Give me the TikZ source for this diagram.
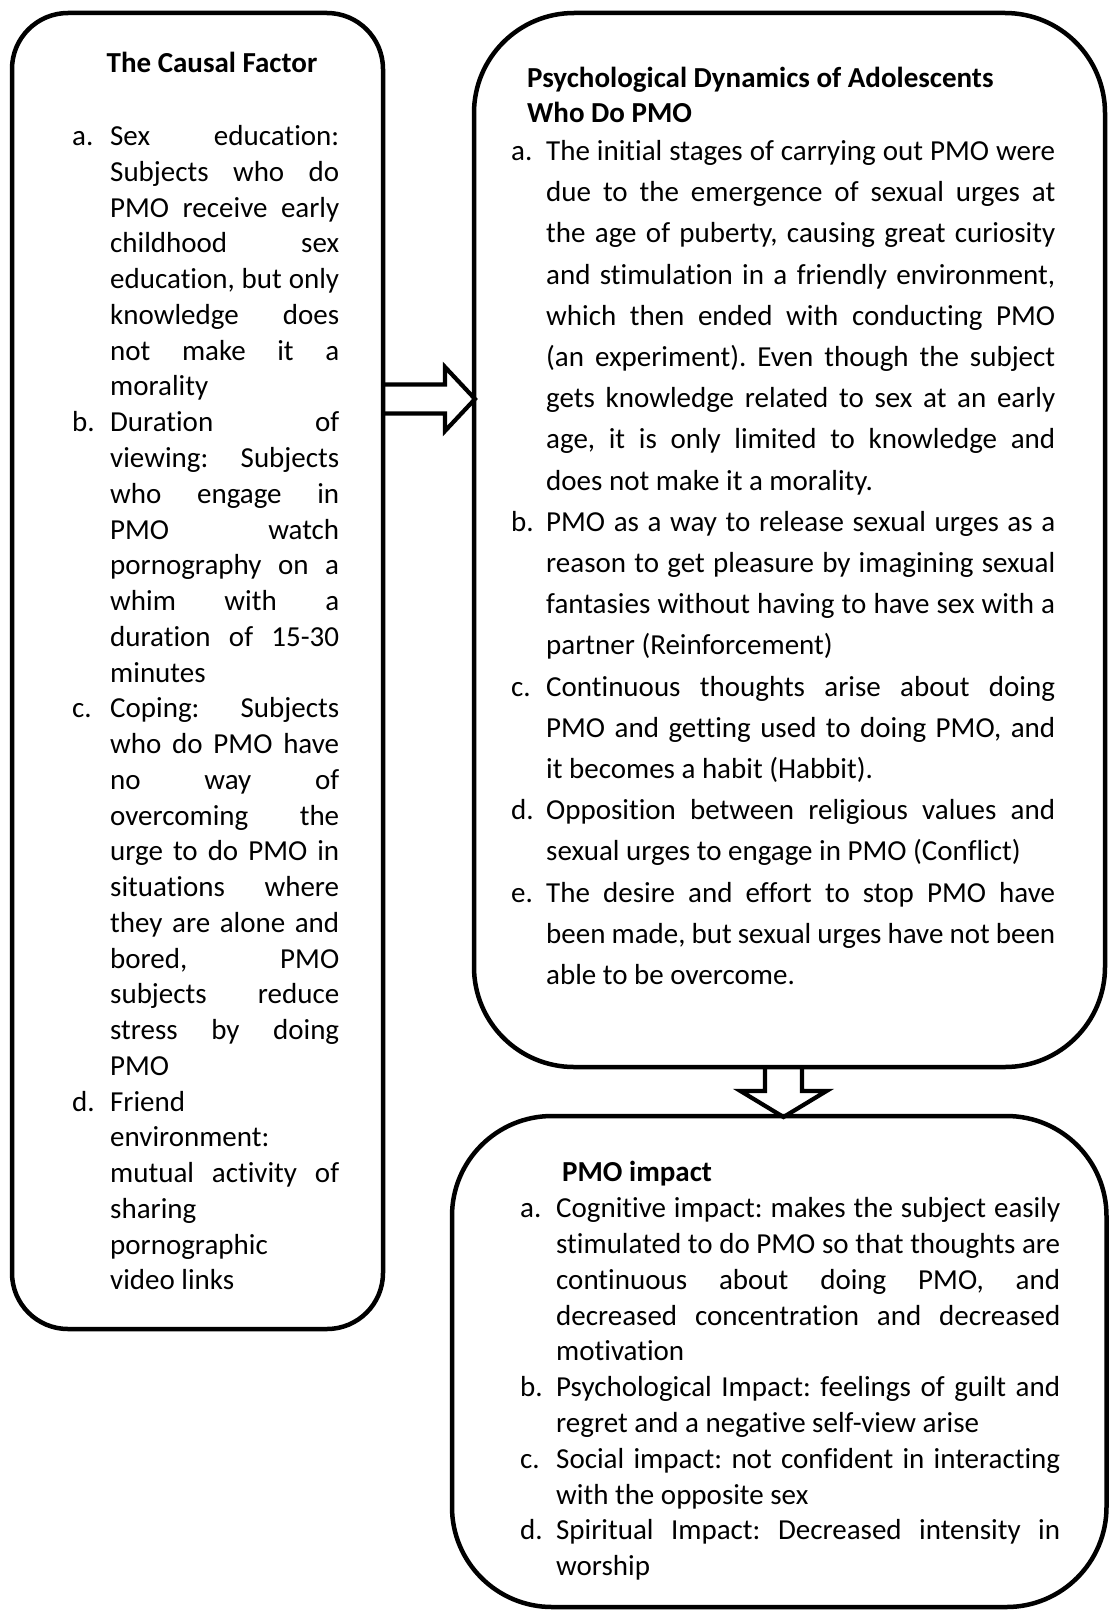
\documentclass[tikz,border=0pt]{standalone}
\usepackage{fontspec}
\setmainfont{Carlito}[Ligatures=NoCommon]
\usetikzlibrary{positioning}
\newcommand{\bodyfont}[1]{\fontsize{29pt}{#1}\selectfont\frenchspacing
  \spaceskip=0.226em plus 3em minus 0.08em\relax
  \tolerance=10000 \hyphenpenalty=10000 \exhyphenpenalty=10000 }
\newcommand{\litem}[2]{\par\hangindent=#1\hangafter=1\noindent\makebox[#1][l]{#2}}
\newcommand{\topstrut}{\rule{0pt}{24pt}}
\tikzset{
  panel/.style={draw, line width=4.5pt, rounded corners=#1, inner sep=0pt, outer sep=0pt},
  heading/.style={inner sep=0pt, font=\bfseries\fontsize{29pt}{35pt}\selectfont},
  itemlist/.style={anchor=north west, inner sep=0pt, text width=#1, align=justify},
  blockarrow/.style={draw, line width=4.2pt, line join=miter}
}

\begin{document}
\begin{tikzpicture}[x=1pt, y=-1pt]
  \useasboundingbox (0,0) rectangle (1108,1611);

  \node[panel=56pt, minimum width=371pt, minimum height=1316pt] (cause) at (197.5,671) {};
  \node[panel=100pt, minimum width=631pt, minimum height=1054pt] (dyn) at (789.5,540) {};
  \node[panel=100pt, minimum width=654.5pt, minimum height=491pt] (impact) at (779.25,1361.5) {};

  \node[heading, anchor=base] (causetitle) at (212,73) {The Causal Factor};
  \node[itemlist=267pt] (causelist) at (72,109.7) {\bodyfont{35.76pt}%
    \litem{38pt}{a.}\topstrut Sex education:\linebreak Subjects who do\linebreak PMO receive early\linebreak childhood sex\linebreak education, but only\linebreak knowledge does\linebreak not make it a\linebreak morality
    \litem{38pt}{b.}Duration of\linebreak viewing: Subjects\linebreak who engage in\linebreak PMO watch\linebreak pornography on a\linebreak whim with a\linebreak duration of 15-30\linebreak minutes
    \litem{38pt}{c.}Coping: Subjects\linebreak who do PMO have\linebreak no way of\linebreak overcoming the\linebreak urge to do PMO in\linebreak situations where\linebreak they are alone and\linebreak bored, PMO\linebreak subjects reduce\linebreak stress by doing\linebreak PMO
    \litem{38pt}{d.}Friend\linebreak environment:\linebreak mutual activity of\linebreak sharing\linebreak pornographic\linebreak video links\par};

  \node[heading, anchor=north west, align=left] (dyntitle) at (527,63) {\topstrut Psychological Dynamics of Adolescents\\Who Do PMO};
  \node[itemlist=544pt] (dynlist) at (511,119) {\bodyfont{41.2pt}%
    \litem{35pt}{a.}\topstrut The initial stages of carrying out PMO were\linebreak due to the emergence of sexual urges at\linebreak the age of puberty, causing great curiosity\linebreak and stimulation in a friendly environment,\linebreak which then ended with conducting PMO\linebreak (an experiment). Even though the subject\linebreak gets knowledge related to sex at an early\linebreak age, it is only limited to knowledge and\linebreak does not make it a morality.
    \litem{35pt}{b.}PMO as a way to release sexual urges as a\linebreak reason to get pleasure by imagining sexual\linebreak fantasies without having to have sex with a\linebreak partner (Reinforcement)
    \litem{35pt}{c.}Continuous thoughts arise about doing\linebreak PMO and getting used to doing PMO, and\linebreak it becomes a habit (Habbit).
    \litem{35pt}{d.}Opposition between religious values and\linebreak sexual urges to engage in PMO (Conflict)
    \litem{35pt}{e.}The desire and effort to stop PMO have\linebreak been made, but sexual urges have not been\linebreak able to be overcome.\par};

  \node[heading, anchor=base west] (impacttitle) at (562,1181) {PMO impact};
  \node[itemlist=540pt] (impactlist) at (520,1181.7) {\bodyfont{35.8pt}%
    \litem{36pt}{a.}\topstrut Cognitive impact: makes the subject easily\linebreak stimulated to do PMO so that thoughts are\linebreak continuous about doing PMO, and\linebreak decreased concentration and decreased\linebreak motivation
    \litem{36pt}{b.}Psychological Impact: feelings of guilt and\linebreak regret and a negative self-view arise
    \litem{36pt}{c.}Social impact: not confident in interacting\linebreak with the opposite sex
    \litem{36pt}{d.}Spiritual Impact: Decreased intensity in\linebreak worship\par};

  \coordinate (a1) at (cause.east |- 0,399);
  \coordinate (a2) at (dyn.south -| 783.5,0);
  \draw[blockarrow] (a1) ++(0,-14.5) -- ++(62,0) -- ++(0,-17.5) -- ++(30,32) -- ++(-30,32) -- ++(0,-17.5) -- ++(-62,0);
  \draw[blockarrow] (a2) ++(-18.5,0) -- ++(0,24) -- ++(-24.5,0) -- ++(43,26) -- ++(43,-26) -- ++(-24.5,0) -- ++(0,-24);
\end{tikzpicture}
\end{document}
